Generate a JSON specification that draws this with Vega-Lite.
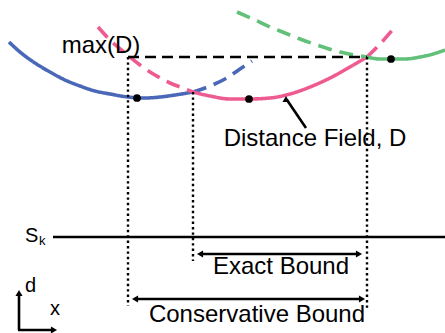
{
  "$schema": "https://vega.github.io/schema/vega-lite/v6.json",
  "width": 445,
  "height": 333,
  "autosize": {"type": "none"},
  "padding": 0,
  "background": "white",
  "config": {"view": {"stroke": null}, "axis": {"disable": true}, "legend": {"disable": true}},
  "datasets": {
    "curves": [
      {"seg": "b1", "c": "blue", "d": "solid", "x": 9, "y": 42},
      {"seg": "b1", "c": "blue", "d": "solid", "x": 20, "y": 52},
      {"seg": "b1", "c": "blue", "d": "solid", "x": 35, "y": 63},
      {"seg": "b1", "c": "blue", "d": "solid", "x": 50, "y": 72},
      {"seg": "b1", "c": "blue", "d": "solid", "x": 65, "y": 80},
      {"seg": "b1", "c": "blue", "d": "solid", "x": 80, "y": 86},
      {"seg": "b1", "c": "blue", "d": "solid", "x": 95, "y": 91},
      {"seg": "b1", "c": "blue", "d": "solid", "x": 110, "y": 94},
      {"seg": "b1", "c": "blue", "d": "solid", "x": 128, "y": 97},
      {"seg": "b1", "c": "blue", "d": "solid", "x": 145, "y": 98},
      {"seg": "b1", "c": "blue", "d": "solid", "x": 160, "y": 97},
      {"seg": "b1", "c": "blue", "d": "solid", "x": 175, "y": 95},
      {"seg": "b1", "c": "blue", "d": "solid", "x": 193, "y": 92},
      {"seg": "b2", "c": "blue", "d": "dash", "x": 193, "y": 92},
      {"seg": "b2", "c": "blue", "d": "dash", "x": 210, "y": 86},
      {"seg": "b2", "c": "blue", "d": "dash", "x": 225, "y": 79},
      {"seg": "b2", "c": "blue", "d": "dash", "x": 240, "y": 69},
      {"seg": "b2", "c": "blue", "d": "dash", "x": 252, "y": 61},
      {"seg": "p1", "c": "pink", "d": "dash", "x": 98, "y": 27},
      {"seg": "p1", "c": "pink", "d": "dash", "x": 110, "y": 40},
      {"seg": "p1", "c": "pink", "d": "dash", "x": 125, "y": 53},
      {"seg": "p1", "c": "pink", "d": "dash", "x": 140, "y": 65},
      {"seg": "p1", "c": "pink", "d": "dash", "x": 155, "y": 75},
      {"seg": "p1", "c": "pink", "d": "dash", "x": 170, "y": 83},
      {"seg": "p1", "c": "pink", "d": "dash", "x": 183, "y": 88},
      {"seg": "p1", "c": "pink", "d": "dash", "x": 193, "y": 92},
      {"seg": "p2", "c": "pink", "d": "solid", "x": 193, "y": 92},
      {"seg": "p2", "c": "pink", "d": "solid", "x": 210, "y": 96},
      {"seg": "p2", "c": "pink", "d": "solid", "x": 230, "y": 99},
      {"seg": "p2", "c": "pink", "d": "solid", "x": 249, "y": 99},
      {"seg": "p2", "c": "pink", "d": "solid", "x": 270, "y": 98},
      {"seg": "p2", "c": "pink", "d": "solid", "x": 290, "y": 94},
      {"seg": "p2", "c": "pink", "d": "solid", "x": 310, "y": 87},
      {"seg": "p2", "c": "pink", "d": "solid", "x": 330, "y": 78},
      {"seg": "p2", "c": "pink", "d": "solid", "x": 350, "y": 67},
      {"seg": "p2", "c": "pink", "d": "solid", "x": 367, "y": 57},
      {"seg": "p3", "c": "pink", "d": "dash", "x": 367, "y": 57},
      {"seg": "p3", "c": "pink", "d": "dash", "x": 380, "y": 44},
      {"seg": "p3", "c": "pink", "d": "dash", "x": 395, "y": 27},
      {"seg": "g1", "c": "green", "d": "dash", "x": 237, "y": 12},
      {"seg": "g1", "c": "green", "d": "dash", "x": 255, "y": 20},
      {"seg": "g1", "c": "green", "d": "dash", "x": 270, "y": 27},
      {"seg": "g1", "c": "green", "d": "dash", "x": 285, "y": 33},
      {"seg": "g1", "c": "green", "d": "dash", "x": 300, "y": 39},
      {"seg": "g1", "c": "green", "d": "dash", "x": 320, "y": 46},
      {"seg": "g1", "c": "green", "d": "dash", "x": 340, "y": 52},
      {"seg": "g1", "c": "green", "d": "dash", "x": 355, "y": 55},
      {"seg": "g1", "c": "green", "d": "dash", "x": 367, "y": 57},
      {"seg": "g2", "c": "green", "d": "solid", "x": 367, "y": 57},
      {"seg": "g2", "c": "green", "d": "solid", "x": 380, "y": 59},
      {"seg": "g2", "c": "green", "d": "solid", "x": 391, "y": 59},
      {"seg": "g2", "c": "green", "d": "solid", "x": 405, "y": 59},
      {"seg": "g2", "c": "green", "d": "solid", "x": 420, "y": 57},
      {"seg": "g2", "c": "green", "d": "solid", "x": 433, "y": 54},
      {"seg": "g2", "c": "green", "d": "solid", "x": 445, "y": 50}
    ],
    "dashrule": [{"x": 128, "y": 57, "x2": 367, "y2": 57}],
    "dotrules": [
      {"x": 128, "y": 57, "x2": 128, "y2": 306},
      {"x": 193, "y": 92, "x2": 193, "y2": 261},
      {"x": 367, "y": 57, "x2": 367, "y2": 310}
    ],
    "solidrules": [
      {"x": 53, "y": 237, "x2": 445, "y2": 237},
      {"x": 200, "y": 254, "x2": 359, "y2": 254},
      {"x": 135, "y": 299, "x2": 362, "y2": 299},
      {"x": 306, "y": 128, "x2": 287, "y2": 100},
      {"x": 19, "y": 294, "x2": 19, "y2": 330},
      {"x": 18, "y": 330, "x2": 53, "y2": 330}
    ],
    "dots": [{"x": 137, "y": 98}, {"x": 249, "y": 99}, {"x": 391, "y": 59}],
    "heads": [
      {"x": 200, "y": 254, "s": "left"},
      {"x": 359, "y": 254, "s": "right"},
      {"x": 135, "y": 299, "s": "left"},
      {"x": 362, "y": 299, "s": "right"},
      {"x": 19, "y": 293, "s": "up"},
      {"x": 54, "y": 330, "s": "right"},
      {"x": 286, "y": 99, "s": "diag"}
    ],
    "bigtext": [
      {"t": "max(D)", "x": 101, "y": 53},
      {"t": "Distance Field, D", "x": 315, "y": 146},
      {"t": "Exact Bound", "x": 281, "y": 274},
      {"t": "Conservative Bound", "x": 257, "y": 322}
    ],
    "midtext": [
      {"t": "d", "x": 25, "y": 292},
      {"t": "x", "x": 50, "y": 315},
      {"t": "S", "x": 25, "y": 242}
    ],
    "smalltext": [{"t": "k", "x": 39, "y": 245}]
  },
  "layer": [
    {
      "data": {"name": "curves"},
      "mark": {"type": "line", "strokeWidth": 3.6, "interpolate": "monotone"},
      "encoding": {
        "x": {"field": "x", "type": "quantitative", "scale": {"domain": [0, 445], "nice": false, "zero": false}},
        "y": {"field": "y", "type": "quantitative", "scale": {"domain": [0, 333], "nice": false, "zero": false, "reverse": true}},
        "detail": {"field": "seg"},
        "color": {"field": "c", "type": "nominal", "scale": {"domain": ["blue", "pink", "green"], "range": ["#4a68b8", "#ee5b90", "#62c07a"]}},
        "strokeDash": {"field": "d", "type": "nominal", "scale": {"domain": ["solid", "dash"], "range": [[1, 0], [14, 8]]}}
      }
    },
    {
      "data": {"name": "dashrule"},
      "mark": {"type": "rule", "strokeWidth": 2.6, "strokeDash": [11, 6], "color": "black"},
      "encoding": {
        "x": {"field": "x", "type": "quantitative"},
        "y": {"field": "y", "type": "quantitative"},
        "x2": {"field": "x2"},
        "y2": {"field": "y2"}
      }
    },
    {
      "data": {"name": "dotrules"},
      "mark": {"type": "rule", "strokeWidth": 2.4, "strokeDash": [2.4, 3], "color": "black"},
      "encoding": {
        "x": {"field": "x", "type": "quantitative"},
        "y": {"field": "y", "type": "quantitative"},
        "x2": {"field": "x2"},
        "y2": {"field": "y2"}
      }
    },
    {
      "data": {"name": "solidrules"},
      "mark": {"type": "rule", "strokeWidth": 2.6, "color": "black"},
      "encoding": {
        "x": {"field": "x", "type": "quantitative"},
        "y": {"field": "y", "type": "quantitative"},
        "x2": {"field": "x2"},
        "y2": {"field": "y2"}
      }
    },
    {
      "data": {"name": "dots"},
      "mark": {"type": "point", "filled": true, "size": 60, "color": "black", "opacity": 1},
      "encoding": {
        "x": {"field": "x", "type": "quantitative"},
        "y": {"field": "y", "type": "quantitative"}
      }
    },
    {
      "data": {"name": "heads"},
      "mark": {"type": "point", "filled": true, "size": 50, "color": "black", "opacity": 1},
      "encoding": {
        "x": {"field": "x", "type": "quantitative"},
        "y": {"field": "y", "type": "quantitative"},
        "shape": {"field": "s", "type": "nominal", "scale": {"domain": ["left", "right", "up", "diag"], "range": ["triangle-left", "triangle-right", "triangle-up", "triangle-up"]}},
        "angle": {"field": "s", "type": "nominal", "scale": {"domain": ["left", "right", "up", "diag"], "range": [0, 0, 0, 325]}}
      }
    },
    {
      "data": {"name": "bigtext"},
      "mark": {"type": "text", "font": "Liberation Sans", "fontSize": 24, "align": "center", "baseline": "alphabetic", "color": "black"},
      "encoding": {
        "x": {"field": "x", "type": "quantitative"},
        "y": {"field": "y", "type": "quantitative"},
        "text": {"field": "t"}
      }
    },
    {
      "data": {"name": "midtext"},
      "mark": {"type": "text", "font": "Liberation Sans", "fontSize": 20, "align": "left", "baseline": "alphabetic", "color": "black"},
      "encoding": {
        "x": {"field": "x", "type": "quantitative"},
        "y": {"field": "y", "type": "quantitative"},
        "text": {"field": "t"}
      }
    },
    {
      "data": {"name": "smalltext"},
      "mark": {"type": "text", "font": "Liberation Sans", "fontSize": 13, "align": "left", "baseline": "alphabetic", "color": "black"},
      "encoding": {
        "x": {"field": "x", "type": "quantitative"},
        "y": {"field": "y", "type": "quantitative"},
        "text": {"field": "t"}
      }
    }
  ]
}
